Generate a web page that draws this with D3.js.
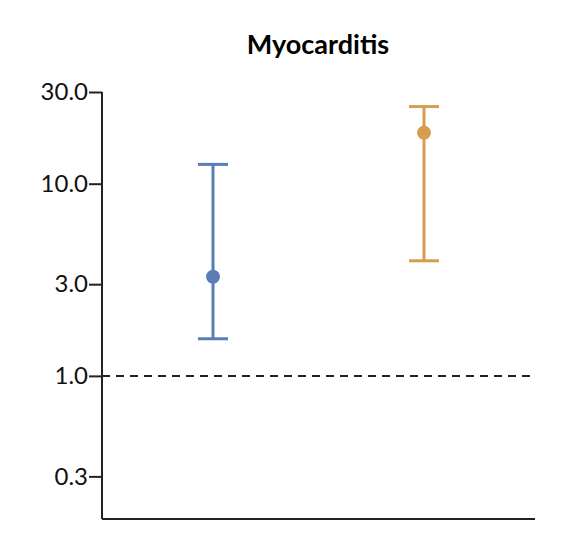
<!DOCTYPE html>
<html>
<head>
<meta charset="utf-8">
<script src="https://cdn.jsdelivr.net/npm/d3@7"></script>
<style>
  body { margin: 0; background: #fff; }
  text { font-family: Lato, "Open Sans", sans-serif; }
</style>
</head>
<body>
<svg id="chart" width="562" height="542"></svg>
<script>
// groups and estimated ratios
let groups = ["A", "B"];
let estimates = [3.28, 18.4];
let lowers = [1.56, 3.97];
let uppers = [12.6, 25.2];
let colors = ["#5b7db5", "#d69d52"];
let ticks = [0.3, 1.0, 3.0, 10.0, 30.0];

let svg = d3.select("#chart");
let mLeft = 102, mRight = 535, mTop = 92, mBottom = 519;

let y = d3.scaleLog().domain([0.18, 30]).range([mBottom, mTop]);
let x = d3.scalePoint().domain(groups).range([213, 424]);

svg.append("text")
    .attr("x", 318).attr("y", 54)
    .attr("text-anchor", "middle")
    .style("font-size", "27px").style("font-weight", "bold")
    .text("Myocarditis");

let axis = d3.axisLeft(y).tickValues(ticks).tickFormat(d3.format(".1f")).tickSize(13).tickSizeOuter(0);
let g = svg.append("g").attr("transform", "translate(" + mLeft + ",0)").call(axis);
g.select(".domain").attr("stroke", "#222").attr("stroke-width", 2).attr("d", "M0," + mTop + "V" + mBottom);
g.selectAll(".tick line").attr("stroke", "#222").attr("stroke-width", 2);
g.selectAll(".tick text").attr("fill", "#111").style("font-size", "24px").attr("x", -14);

svg.append("line")
    .attr("x1", mLeft).attr("x2", mRight).attr("y1", mBottom).attr("y2", mBottom)
    .attr("stroke", "#222").attr("stroke-width", 2);

svg.append("line")
    .attr("x1", mLeft).attr("x2", mRight).attr("y1", y(1)).attr("y2", y(1))
    .attr("stroke", "#222").attr("stroke-width", 2).attr("stroke-dasharray", "8,6");

groups.forEach(function (d, i) {
    let cx = x(d);
    let c = colors[i];
    svg.append("line").attr("x1", cx).attr("x2", cx).attr("y1", y(lowers[i])).attr("y2", y(uppers[i]))
        .attr("stroke", c).attr("stroke-width", 3);
    [lowers[i], uppers[i]].forEach(function (v) {
        svg.append("line").attr("x1", cx - 15).attr("x2", cx + 15).attr("y1", y(v)).attr("y2", y(v))
            .attr("stroke", c).attr("stroke-width", 3);
    });
    svg.append("circle").attr("cx", cx).attr("cy", y(estimates[i])).attr("r", 7).attr("fill", c);
});
</script>
</body>
</html>
